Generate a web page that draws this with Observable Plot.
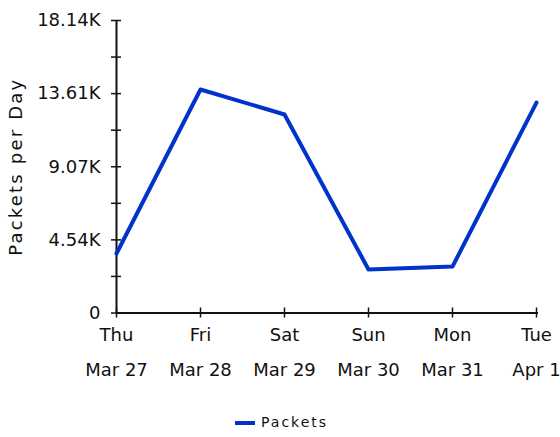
<!DOCTYPE html>
<html>
<head>
<meta charset="utf-8">
<script src="https://cdn.jsdelivr.net/npm/d3@7"></script>
<script src="https://cdn.jsdelivr.net/npm/@observablehq/plot@0.6"></script>
<style>
  html, body { margin: 0; padding: 0; background: #fff; }
  #wrap { position: relative; width: 560px; height: 437px; overflow: hidden; font-family: "DejaVu Sans", sans-serif; }
  #legend { position: absolute; left: 0; top: 410px; width: 560px; height: 24px; }
  .swatch { position: absolute; left: 235px; top: 11px; width: 20px; height: 4px; background: #0033cc; }
  .ltext { position: absolute; left: 261px; top: 3px; font-size: 14px; letter-spacing: 2px; color: #111; line-height: 18px; }
</style>
</head>
<body>
<div id="wrap">
  <div id="chart"></div>
  <div id="legend"><div class="swatch"></div><div class="ltext">Packets</div></div>
</div>
<script>
const days = ["Thu", "Fri", "Sat", "Sun", "Mon", "Tue"];
const dates = ["Mar 27", "Mar 28", "Mar 29", "Mar 30", "Mar 31", "Apr 1"];
const packets = [3690, 13860, 12310, 2700, 2880, 13050];
const yTickValues = [0, 2267.5, 4535, 6802.5, 9070, 11337.5, 13605, 15872.5, 18140];
const yLabelValues = [0, 4535, 9070, 13605, 18140];
const yLabels = ["0", "4.54K", "9.07K", "13.61K", "18.14K"];
const yTitle = "Packets per Day";
const seriesName = "Packets";

const rows = dates.map((d, i) => ({date: d, day: days[i], value: packets[i]}));

const chart = Plot.plot({
  width: 560,
  height: 400,
  marginLeft: 116,
  marginRight: 24,
  marginTop: 20,
  marginBottom: 87.5,
  style: {fontFamily: "DejaVu Sans, sans-serif", fontSize: "18px", color: "#111", background: "#fff"},
  x: {type: "point", domain: dates, padding: 0},
  y: {domain: [0, 18140]},
  marks: [
    Plot.axisX({tickSize: 0, tickPadding: 15.5, tickFormat: d => days[dates.indexOf(d)], label: null, fill: "#111"}),
    Plot.axisX({tickSize: 0, tickPadding: 50.5, label: null, fill: "#111"}),
    Plot.axisY({ticks: yLabelValues, tickSize: 0, tickPadding: 16, tickFormat: d => yLabels[yLabelValues.indexOf(d)], label: null, fill: "#111"}),
    Plot.text([yTitle], {frameAnchor: "left", textAnchor: "middle", lineAnchor: "middle", rotate: -90, dx: -100.5, fill: "#111", fontSize: 18, letterSpacing: "2.2px"}),
    Plot.ruleY(yTickValues, {y: d => d, x1: () => dates[0], x2: () => dates[0], insetLeft: -5, insetRight: -5, stroke: "#111", strokeWidth: 1.5}),
    Plot.ruleX(dates, {x: d => d, y1: () => 0, y2: () => 0, insetTop: -5, insetBottom: -5, stroke: "#111", strokeWidth: 1.5}),
    Plot.ruleX([dates[0]], {stroke: "#111", strokeWidth: 2}),
    Plot.ruleY([0], {stroke: "#111", strokeWidth: 2, insetRight: -2}),
    Plot.line(rows, {x: "date", y: "value", stroke: "#0033cc", strokeWidth: 4, strokeLinejoin: "round", strokeLinecap: "round"})
  ]
});
chart.querySelectorAll("text").forEach(t => {
  if (t.textContent === yTitle) t.setAttribute("letter-spacing", "2.2");
});
document.getElementById("chart").appendChild(chart);
</script>
</body>
</html>
